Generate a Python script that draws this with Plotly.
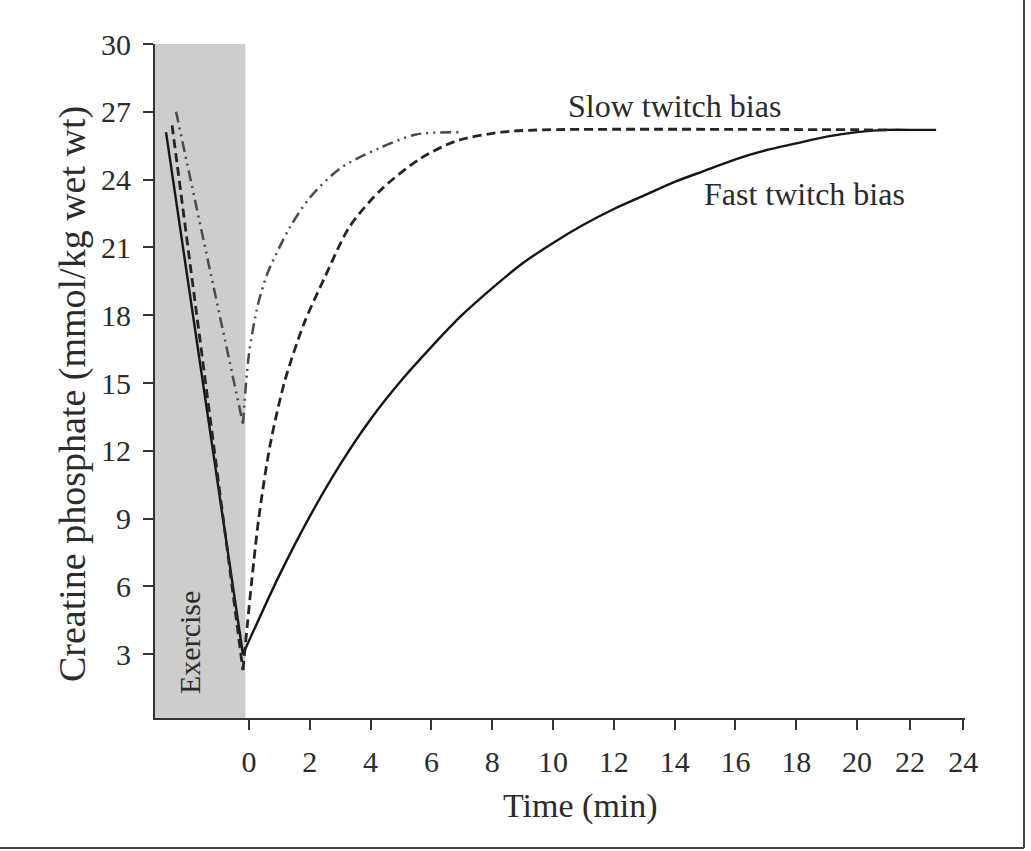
import plotly.graph_objects as go

# Creatine phosphate (mmol/kg wet wt) during exercise and recovery, by fibre-type bias
# --- exercise phase (straight decline) ---
fast_ex_x = [-2.73, -0.2]
fast_ex_y = [26.1, 3.0]
slow_ex_x = [-2.53, -0.2]
slow_ex_y = [26.4, 2.3]
mixed_ex_x = [-2.4, -0.2]
mixed_ex_y = [27.0, 13.2]

# --- recovery phase ---
fast_rec_x = [-0.2, 1, 2, 3, 4, 5, 6, 7, 8, 9, 10, 11, 12, 13, 14, 15, 16, 17, 18, 19, 20, 21, 22, 22.6]
fast_rec_y = [3.0, 6.5, 9.1, 11.4, 13.4, 15.1, 16.6, 18.0, 19.2, 20.3, 21.2, 22.0, 22.7, 23.3,
              23.9, 24.4, 24.9, 25.3, 25.6, 25.9, 26.1, 26.2, 26.2, 26.2]
slow_rec_x = [-0.2, 0.3, 0.7, 1.18, 1.8, 2.5, 3.3, 4.3, 5.6, 6.8, 8.3, 9.6, 21.0]
slow_rec_y = [2.3, 8.8, 12.3, 15.1, 17.6, 19.7, 21.9, 23.5, 24.9, 25.7, 26.1, 26.2, 26.2]
mixed_rec_x = [-0.2, 0.0, 0.3, 0.62, 1.0, 1.35, 2.0, 3.0, 4.3, 5.5, 6.9]
mixed_rec_y = [13.2, 16.3, 18.5, 19.9, 21.0, 21.9, 23.2, 24.5, 25.4, 26.0, 26.1]

# axis ticks
x_tick_vals = [0, 2, 4, 6, 8, 10, 12, 14, 16, 18, 20, 21.74, 23.49]
x_tick_text = ["0", "2", "4", "6", "8", "10", "12", "14", "16", "18", "20", "22", "24"]
y_tick_vals = [3, 6, 9, 12, 15, 18, 21, 24, 27, 30]

X_RANGE = [-3.092, 23.55]
Y_RANGE = [0.18, 30.0]
EXERCISE_END = -0.12

FONT = "Liberation Serif"
INK = "#2b2b2b"

fig = go.Figure()

styles = {
    "fast": dict(color="#151515", width=2.4, dash="solid"),
    "slow": dict(color="#252525", width=2.8, dash="9px,5px"),
    "mixed": dict(color="#4a4a4a", width=2.5, dash="11px,5px,2px,5px,2px,5px"),
}

for key, ex_x, ex_y, rec_x, rec_y in [
    ("fast", fast_ex_x, fast_ex_y, fast_rec_x, fast_rec_y),
    ("slow", slow_ex_x, slow_ex_y, slow_rec_x, slow_rec_y),
    ("mixed", mixed_ex_x, mixed_ex_y, mixed_rec_x, mixed_rec_y),
]:
    fig.add_trace(go.Scatter(x=ex_x, y=ex_y, mode="lines", line=styles[key],
                             showlegend=False, hoverinfo="skip"))
    fig.add_trace(go.Scatter(x=rec_x, y=rec_y, mode="lines",
                             line=dict(shape="spline", smoothing=0.8, **styles[key]),
                             showlegend=False))

# shaded exercise period
fig.add_shape(type="rect", xref="x", yref="y", x0=X_RANGE[0], x1=EXERCISE_END,
              y0=Y_RANGE[0], y1=Y_RANGE[1], fillcolor="#cdcdcd", line_width=0, layer="below")

fig.add_annotation(x=-1.94, y=3.5, text="Exercise", textangle=-90, showarrow=False,
                   font=dict(family=FONT, size=30, color=INK))
fig.add_annotation(x=13.98, y=27.26, text="Slow twitch bias", showarrow=False,
                   font=dict(family=FONT, size=32, color=INK))
fig.add_annotation(x=18.26, y=23.36, text="Fast twitch bias", showarrow=False,
                   font=dict(family=FONT, size=32, color=INK))

# page geometry in pixels
W, H = 1031, 851
L, R, T, B = 155, 66, 44, 133
pw, ph = W - L - R, H - T - B


def px(xp):
    return (xp - L) / pw


def py(yp):
    return (H - B - yp) / ph


# axis titles
fig.add_annotation(xref="paper", yref="paper", x=px(580), y=py(806),
                   xanchor="center", yanchor="middle", text="Time (min)",
                   showarrow=False, font=dict(family=FONT, size=34, color=INK))
fig.add_annotation(xref="paper", yref="paper", x=px(72), y=py(394),
                   xanchor="center", yanchor="middle", textangle=-90,
                   text="Creatine phosphate (mmol/kg wet wt)", showarrow=False,
                   font=dict(family=FONT, size=38, color=INK))

# page frame: right edge and bottom rule
fig.add_shape(type="line", xref="paper", yref="paper", x0=px(1024), x1=px(1024),
              y0=py(0), y1=py(848), line=dict(color="#444", width=2))
fig.add_shape(type="line", xref="paper", yref="paper", x0=px(0), x1=px(1024),
              y0=py(848), y1=py(848), line=dict(color="#444", width=2))

fig.update_layout(
    width=W, height=H,
    margin=dict(l=L, r=R, t=T, b=B, autoexpand=False),
    paper_bgcolor="white", plot_bgcolor="white",
    font=dict(family=FONT, color=INK),
)
fig.update_xaxes(
    range=X_RANGE, tickvals=x_tick_vals, ticktext=x_tick_text,
    showgrid=False, zeroline=False, showline=True, linecolor="#333", linewidth=2,
    ticks="outside", ticklen=10, tickwidth=2, tickcolor="#333",
    tickfont=dict(family=FONT, size=30, color=INK), ticklabelstandoff=6,
)
fig.update_yaxes(
    range=Y_RANGE, tickvals=y_tick_vals,
    showgrid=False, zeroline=False, showline=True, linecolor="#333", linewidth=2,
    ticks="outside", ticklen=10, tickwidth=2, tickcolor="#333",
    tickfont=dict(family=FONT, size=30, color=INK), ticklabelstandoff=6,
)

fig.write_html("out.html")
